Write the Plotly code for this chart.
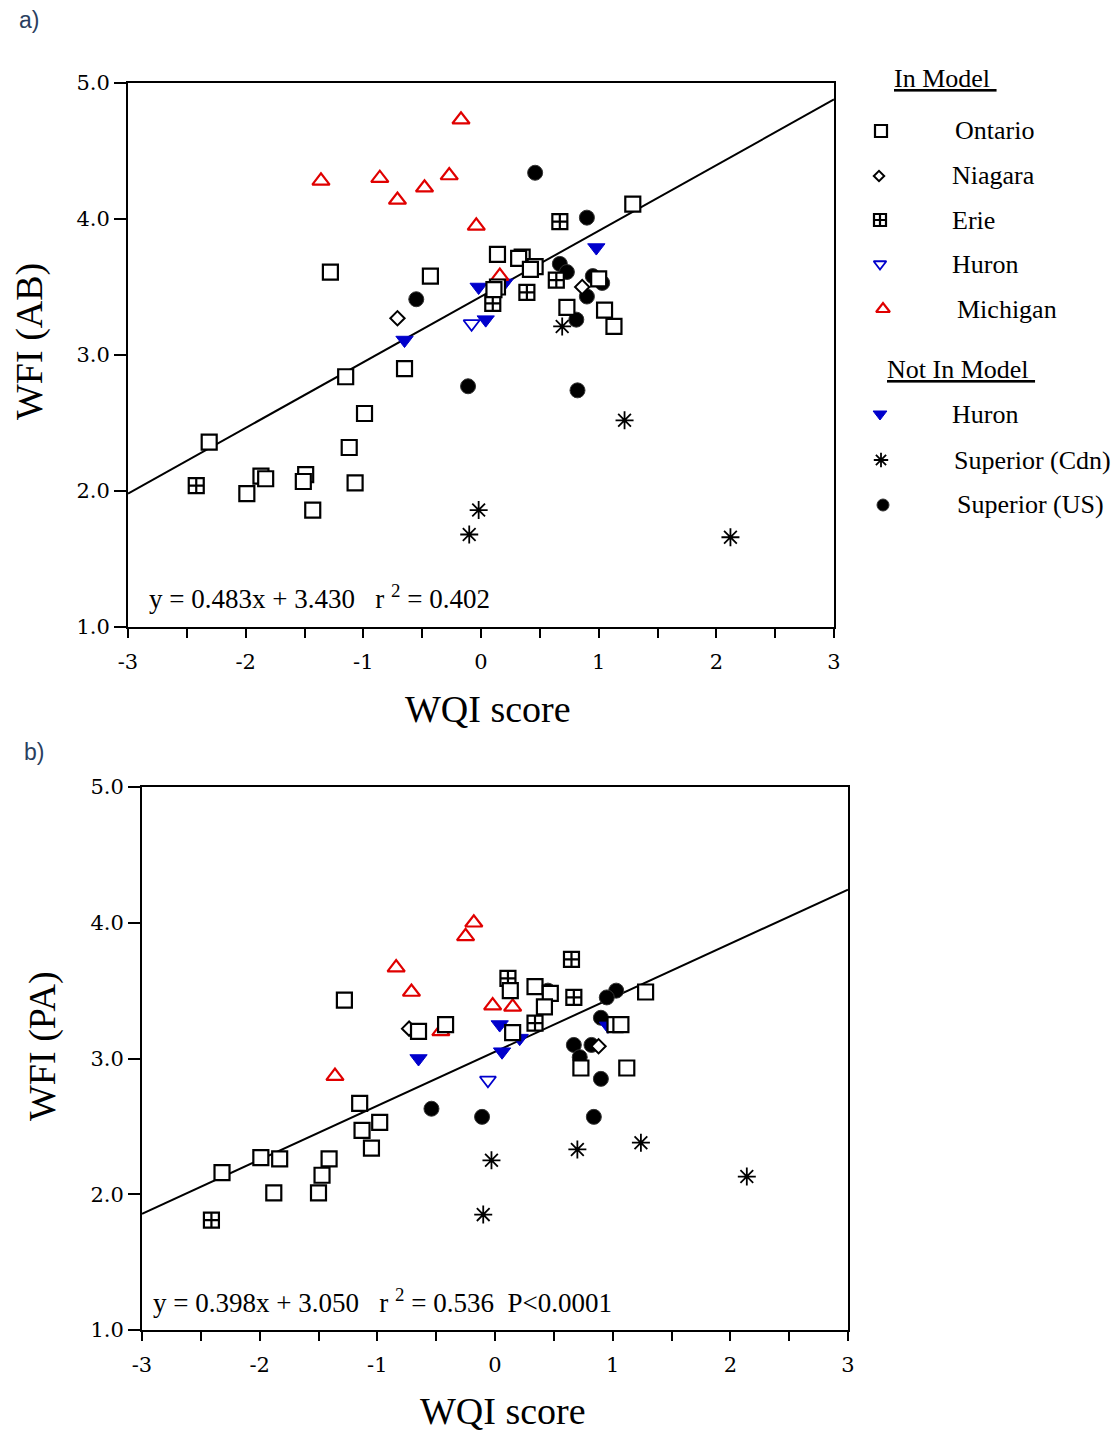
import numpy as np
import plotly.graph_objects as go

W, H = 1120, 1434
OFF = 8  # page body margin: figure pixel = screen pixel - OFF

# ---------------- Panel a) WFI (AB) vs WQI ----------------
a_ontario_x = [-1.28, -0.43, -2.31, -1.15, -0.65, -0.99, -1.12, -1.07, -1.43, -1.99, -1.87, -1.83, -1.49, -1.51,
               1.29, 0.14, 0.35, 0.32, 0.46, 0.42, 0.14, 0.11, 1.00, 0.73, 1.05, 1.13]
a_ontario_y = [3.61, 3.58, 2.36, 2.84, 2.90, 2.57, 2.32, 2.06, 1.86, 1.98, 2.11, 2.09, 2.12, 2.07,
               4.11, 3.74, 3.72, 3.71, 3.65, 3.63, 3.50, 3.48, 3.56, 3.35, 3.33, 3.21]
a_niagara_x = [-0.71, 0.86]
a_niagara_y = [3.27, 3.50]
a_erie_x = [0.67, 0.64, 0.39, 0.10, -2.42]
a_erie_y = [3.98, 3.55, 3.46, 3.38, 2.04]
a_huron_in_x = [-0.08]
a_huron_in_y = [3.23]
a_michigan_x = [-0.17, -1.36, -0.86, -0.71, -0.48, -0.27, -0.04, 0.16]
a_michigan_y = [4.73, 4.28, 4.30, 4.14, 4.23, 4.32, 3.95, 3.58]
a_huron_out_x = [-0.65, 0.04, -0.02, 0.20, 0.98]
a_huron_out_y = [3.11, 3.26, 3.50, 3.53, 3.79]
a_supcdn_x = [0.69, 1.22, 2.12, -0.02, -0.10]
a_supcdn_y = [3.21, 2.52, 1.66, 1.86, 1.68]
a_supus_x = [0.46, 0.90, 0.67, 0.73, 0.95, 1.03, 0.90, 0.81, -0.55, -0.11, 0.82]
a_supus_y = [4.34, 4.01, 3.67, 3.61, 3.58, 3.53, 3.43, 3.26, 3.41, 2.77, 2.74]
a_slope, a_intercept, a_r2 = 0.483, 3.430, 0.402

# ---------------- Panel b) WFI (PA) vs WQI ----------------
b_ontario_x = [-1.28, -0.65, -0.42, -1.15, -0.98, -1.13, -1.05, -2.32, -1.99, -1.83, -1.41, -1.47, -1.88, -1.50,
               0.13, 0.34, 0.47, 0.42, 0.15, 1.02, 1.07, 1.28, 0.73, 1.12]
b_ontario_y = [3.43, 3.20, 3.25, 2.67, 2.53, 2.47, 2.34, 2.16, 2.27, 2.26, 2.26, 2.14, 2.01, 2.01,
               3.50, 3.53, 3.48, 3.38, 3.19, 3.25, 3.25, 3.49, 2.93, 2.93]
b_niagara_x = [-0.73, 0.88]
b_niagara_y = [3.22, 3.09]
b_erie_x = [0.65, 0.11, 0.67, 0.34, -2.41]
b_erie_y = [3.73, 3.59, 3.45, 3.26, 1.81]
b_huron_in_x = [-0.06]
b_huron_in_y = [2.84]
b_michigan_x = [-0.18, -0.25, -0.84, -0.71, -1.36, -0.02, 0.15, -0.46]
b_michigan_y = [4.00, 3.90, 3.67, 3.49, 2.87, 3.39, 3.38, 3.20]
b_huron_out_x = [-0.65, 0.04, 0.06, 0.21, 0.96]
b_huron_out_y = [3.00, 3.25, 3.05, 3.15, 3.24]
b_supcdn_x = [-0.03, -0.10, 0.70, 1.24, 2.14]
b_supcdn_y = [2.25, 1.85, 2.33, 2.38, 2.13]
b_supus_x = [-0.54, -0.11, 1.03, 0.95, 0.90, 0.67, 0.82, 0.72, 0.90, 0.84, 0.45]
b_supus_y = [2.63, 2.57, 3.50, 3.45, 3.30, 3.10, 3.10, 3.01, 2.85, 2.57, 3.50]
b_slope, b_intercept, b_r2 = 0.398, 3.050, 0.536

x_tick_labels = ["-3", "-2", "-1", "0", "1", "2", "3"]
y_tick_labels = ["1.0", "2.0", "3.0", "4.0", "5.0"]

legend_in_names = ["Ontario", "Niagara", "Erie", "Huron", "Michigan"]
legend_out_names = ["Huron", "Superior (Cdn)", "Superior (US)"]

BLUE = "#0000cc"
RED = "#e00000"
styles = {
    "ontario": dict(symbol="square", size=15, color="white", line=dict(color="black", width=2.2)),
    "niagara": dict(symbol="diamond", size=11, color="white", line=dict(color="black", width=2)),
    "erie": dict(symbol="square-cross", size=15, color="white", line=dict(color="black", width=2.2)),
    "huron_in": dict(symbol="triangle-down", size=14, color="white", line=dict(color=BLUE, width=1.8)),
    "michigan": dict(symbol="triangle-up", size=15, color="white", line=dict(color=RED, width=2.2)),
    "huron_out": dict(symbol="triangle-down", size=15, color=BLUE, line=dict(color=BLUE, width=1)),
    "supcdn": dict(symbol="asterisk-open", size=15, color="black", line=dict(color="black", width=1.8)),
    "supus": dict(symbol="circle", size=15, color="black", line=dict(color="#333333", width=1)),
}

panel_a = {
    "supus": (a_supus_x, a_supus_y), "supcdn": (a_supcdn_x, a_supcdn_y),
    "huron_out": (a_huron_out_x, a_huron_out_y), "michigan": (a_michigan_x, a_michigan_y),
    "huron_in": (a_huron_in_x, a_huron_in_y), "niagara": (a_niagara_x, a_niagara_y),
    "erie": (a_erie_x, a_erie_y), "ontario": (a_ontario_x, a_ontario_y),
}
panel_b = {
    "supus": (b_supus_x, b_supus_y), "supcdn": (b_supcdn_x, b_supcdn_y),
    "huron_out": (b_huron_out_x, b_huron_out_y), "michigan": (b_michigan_x, b_michigan_y),
    "huron_in": (b_huron_in_x, b_huron_in_y), "niagara": (b_niagara_x, b_niagara_y),
    "erie": (b_erie_x, b_erie_y), "ontario": (b_ontario_x, b_ontario_y),
}


def pxx(x):
    return (x - OFF) / W


def pxy(y):
    return 1 - (y - OFF) / H


fig = go.Figure()

# regression lines
fit_x = np.array([-3.0, 3.0])
fig.add_trace(go.Scatter(x=fit_x, y=a_slope * fit_x + a_intercept, mode="lines",
                         line=dict(color="black", width=2), xaxis="x", yaxis="y", showlegend=False,
                         hoverinfo="skip"))
fig.add_trace(go.Scatter(x=fit_x, y=b_slope * fit_x + b_intercept, mode="lines",
                         line=dict(color="black", width=2), xaxis="x2", yaxis="y2", showlegend=False,
                         hoverinfo="skip"))

for key, (xs, ys) in panel_a.items():
    fig.add_trace(go.Scatter(x=xs, y=ys, mode="markers", marker=styles[key], xaxis="x", yaxis="y",
                             showlegend=False, name=key))
for key, (xs, ys) in panel_b.items():
    fig.add_trace(go.Scatter(x=xs, y=ys, mode="markers", marker=styles[key], xaxis="x2", yaxis="y2",
                             showlegend=False, name=key))

# ---------------- manual legend (on a hidden helper axis in screen-pixel units) ----------------
legend_keys_in = ["ontario", "niagara", "erie", "huron_in", "michigan"]
legend_keys_out = ["huron_out", "supcdn", "supus"]
rows_in_y = [131, 176, 220, 264, 309]
rows_out_y = [414, 460, 505]
sym_x_in = [881, 879, 880, 880, 883]
sym_x_out = [880, 881, 883]
txt_x_in = [953, 950, 950, 950, 955]
txt_x_out = [950, 952, 955]

for keys, rows, sx in ((legend_keys_in, rows_in_y, sym_x_in), (legend_keys_out, rows_out_y, sym_x_out)):
    for k, ry, xx in zip(keys, rows, sx):
        st = dict(styles[k])
        st["size"] = st["size"] - 3
        fig.add_trace(go.Scatter(x=[xx], y=[ry], mode="markers", marker=st, xaxis="x3", yaxis="y3",
                                 showlegend=False, hoverinfo="skip"))

serif = "Liberation Serif"
annotations = []
for names, rows, tx in ((legend_in_names, rows_in_y, txt_x_in), (legend_out_names, rows_out_y, txt_x_out)):
    for n, ry, xx in zip(names, rows, tx):
        annotations.append(dict(text=n, x=pxx(xx), y=pxy(ry), xref="paper", yref="paper",
                                xanchor="left", yanchor="middle", showarrow=False,
                                font=dict(family=serif, size=26, color="black")))
for t, xx, ry in (("In Model\u00a0", 892, 79), ("Not In Model\u00a0", 885, 369)):
    annotations.append(dict(text=t, x=pxx(xx), y=pxy(ry), xref="paper", yref="paper",
                            xanchor="left", yanchor="middle", showarrow=False,
                            font=dict(family=serif, size=26, color="black", lineposition="under")))

# panel labels
annotations.append(dict(text="a)", x=pxx(17), y=pxy(20), xref="paper", yref="paper", xanchor="left",
                        yanchor="middle", showarrow=False, font=dict(family="Liberation Sans", size=23)))
annotations.append(dict(text="b)", x=pxx(22), y=pxy(752), xref="paper", yref="paper", xanchor="left",
                        yanchor="middle", showarrow=False, font=dict(family="Liberation Sans", size=23)))

# axis titles
for t, xx, ry in (("WQI score", 488, 709), ("WQI score", 503, 1411)):
    annotations.append(dict(text=t, x=pxx(xx), y=pxy(ry), xref="paper", yref="paper", xanchor="center",
                            yanchor="middle", showarrow=False, font=dict(family=serif, size=38, color="black")))
for t, xx, ry in (("WFI (AB)", 29, 342), ("WFI (PA)", 42, 1046)):
    annotations.append(dict(text=t, x=pxx(xx), y=pxy(ry), xref="paper", yref="paper", xanchor="center",
                            yanchor="middle", showarrow=False, textangle=-90,
                            font=dict(family=serif, size=38, color="black")))

# equations
nb = "\u00a0"
eq_a = f"y = {a_slope:.3f}x + {a_intercept:.3f}{nb*3}r <sup>2</sup> = {a_r2:.3f}"
eq_b = f"y = {b_slope:.3f}x + {b_intercept:.3f}{nb*3}r <sup>2</sup> = {b_r2:.3f}{nb*2}P&lt;0.0001"
annotations.append(dict(text=eq_a, x=pxx(147), y=pxy(597), xref="paper", yref="paper", xanchor="left",
                        yanchor="middle", showarrow=False, font=dict(family=serif, size=27, color="black")))
annotations.append(dict(text=eq_b, x=pxx(151), y=pxy(1301), xref="paper", yref="paper", xanchor="left",
                        yanchor="middle", showarrow=False, font=dict(family=serif, size=27, color="black")))

x_tickvals = [-3, -2, -1, 0, 1, 2, 3]
x_minor_vals = list(np.arange(-2.5, 3, 1.0))
y_tickvals = [1, 2, 3, 4, 5]

tickfont = dict(family="DejaVu Serif", size=21, color="black")


def xaxis_def(x0, x1, anchor):
    return dict(domain=[pxx(x0), pxx(x1)], anchor=anchor, range=[-3, 3], tickmode="array",
                tickvals=x_tickvals, ticktext=x_tick_labels, ticks="outside", ticklen=9, tickwidth=1.5,
                tickcolor="black", ticklabelstandoff=6,
                minor=dict(tickmode="array", tickvals=x_minor_vals, ticks="outside", ticklen=9,
                           tickwidth=1.5, tickcolor="black", showgrid=False),
                showline=True, linecolor="black", linewidth=2, mirror=True, showgrid=False,
                zeroline=False, tickfont=tickfont, fixedrange=True, automargin=False)


def yaxis_def(y_bottom, y_top, anchor):
    return dict(domain=[pxy(y_bottom), pxy(y_top)], anchor=anchor, range=[1, 5], tickmode="array",
                tickvals=y_tickvals, ticktext=y_tick_labels, ticks="outside", ticklen=12, tickwidth=1.5,
                tickcolor="black", showline=True, linecolor="black", linewidth=2, mirror=True,
                showgrid=False, zeroline=False, tickfont=tickfont, fixedrange=True, automargin=False)


fig.update_layout(
    width=W, height=H,
    margin=dict(l=0, r=0, t=0, b=0, pad=0, autoexpand=False),
    paper_bgcolor="white", plot_bgcolor="white",
    showlegend=False,
    xaxis=xaxis_def(128, 834, "y"),
    yaxis=yaxis_def(627, 83, "x"),
    xaxis2=xaxis_def(142, 848, "y2"),
    yaxis2=yaxis_def(1330, 787, "x2"),
    xaxis3=dict(domain=[pxx(860), pxx(1120)], range=[860, 1120], visible=False, anchor="y3",
                fixedrange=True, automargin=False),
    yaxis3=dict(domain=[pxy(540), pxy(50)], range=[540, 50], visible=False, anchor="x3",
                fixedrange=True, automargin=False),
    annotations=annotations,
)

fig.write_html("out.html")
